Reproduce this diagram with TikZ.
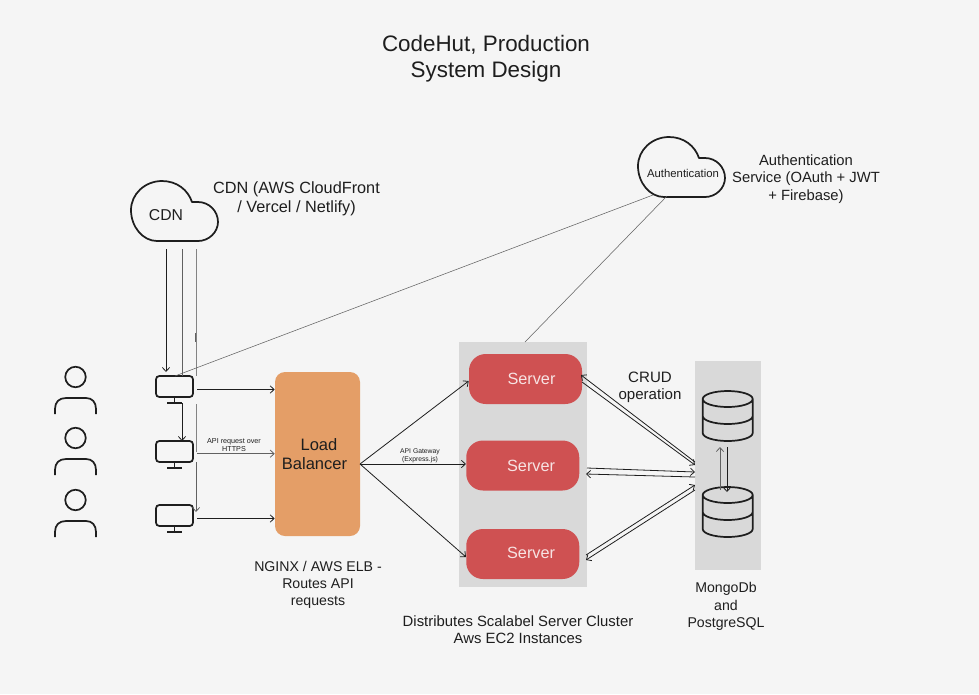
\documentclass[tikz,border=0pt]{standalone}
\usepackage{fontspec}
\setmainfont{Liberation Sans}
\usetikzlibrary{arrows.meta}
\definecolor{bgc}{HTML}{F5F5F5}
\definecolor{panelc}{HTML}{D9D9D9}
\definecolor{lbc}{HTML}{E49E67}
\definecolor{srvc}{HTML}{CF5152}
\definecolor{srvt}{HTML}{F7E3E3}
\definecolor{ink}{HTML}{1E1E1E}
\newcommand\fs[2]{\fontsize{#1}{#2}\selectfont}
\newcommand\cloudshape[2]{%
  \draw[shapeline,shift={(#1,#2)}] (26,60) -- (67,60) .. controls (78,60) and (87,51) .. (87,41)
    .. controls (87,30) and (78,21) .. (67,21) -- (61,21)
    .. controls (57,9) and (46,0) .. (31,0) .. controls (14,0) and (0,13) .. (0,29)
    .. controls (0,46) and (12,60) .. (26,60) -- cycle;}
\newcommand\cylinder[2]{%
  \draw[shapeline,shift={(#1,#2)}] (0,8) arc[x radius=25,y radius=8,start angle=180,end angle=-180]
    (0,8) -- (0,42) arc[x radius=25,y radius=8,start angle=180,end angle=0] -- (50,8)
    (0,25) arc[x radius=25,y radius=8,start angle=180,end angle=0];}
\newcommand\person[2]{%
  \node[headc] (#1) at (75.5,#2) {};
  \draw[shapeline] (55,#2+37) -- (55,#2+32) .. controls (55,#2+25) and (59,#2+21) .. (66,#2+21) -- (86,#2+21)
     .. controls (92,#2+21) and (96,#2+25) .. (96,#2+32) -- (96,#2+37);}
\newcommand\monitor[2]{%
  \node[screen] (#1) at (174.5,#2) {};
  \draw[shapeline] (#1.south) -- ++(0,5) ++(-7.5,0) -- ++(15,0);}
\tikzset{
  x=0.75pt,y=-0.75pt,
  shapeline/.style={draw=ink,line width=1.3pt,line join=round},
  headc/.style={circle,draw=ink,line width=1.3pt,minimum size={20.5*0.75pt},inner sep=0pt},
  screen/.style={rectangle,draw=ink,line width=1.3pt,rounded corners=2.5pt,minimum width={37*0.75pt},minimum height={21*0.75pt},inner sep=0pt},
  panel/.style={fill=panelc,draw=none,inner sep=0pt},
  srv/.style={fill=srvc,draw=none,rounded corners=12.5pt,text=srvt,font=\fs{12.2}{14},inner sep=0pt,minimum width={113*0.75pt},minimum height={50*0.75pt}},
  lbbox/.style={fill=lbc,draw=none,rounded corners=7.5pt,text=ink,font=\fs{12.4}{14.5},align=center,inner sep=0pt,minimum width={85*0.75pt},minimum height={164*0.75pt}},
  lab/.style={text=ink,align=center,font=\fs{10.6}{12.9},inner sep=0pt},
  small/.style={text=ink,align=center,inner sep=0pt},
  conn/.style={draw=ink,line width=0.6pt,-{Straight Barb[length=3pt,width=5.5pt,line width=0.6pt]}},
  connb/.style={draw=ink,line width=0.6pt,{Straight Barb[length=3pt,width=5.5pt,line width=0.6pt]}-},
  gline/.style={draw=ink!70,line width=0.4pt},
  gconn/.style={draw=ink!70,line width=0.6pt,-{Straight Barb[length=3pt,width=5.5pt,line width=0.6pt]}},
}
\begin{document}
\begin{tikzpicture}
\useasboundingbox[fill=bgc] (0,0) rectangle (979,694);
% panels
\node[panel,minimum width={128.5*0.75pt},minimum height={245*0.75pt}] (srvpanel) at (522.75,464.5) {};
\node[panel,minimum width={66*0.75pt},minimum height={209*0.75pt}] (dbpanel) at (728,465.5) {};
% title
\node[lab,font=\fs{16.8}{19.3}] (title) at (486,58.5) {CodeHut, Production\\System Design};
% clouds
\cloudshape{131}{181}
\node[small,font=\fs{11.8}{13}] (cdn) at (166,215) {CDN};
\cloudshape{638}{137}
\node[small,font=\fs{8.5}{9}] (auth) at (683,173) {Authentication};
\node[lab,font=\fs{12.2}{14.3}] (cdnlab) at (296.5,199) {CDN (AWS CloudFront\\/ Vercel / Netlify)};
\node[lab,font=\fs{11.1}{12.9}] (authlab) at (806,179) {Authentication\\Service (OAuth + JWT\\+ Firebase)};
% people
\person{p1}{377}
\person{p2}{438}
\person{p3}{500}
% monitors
\monitor{m1}{386.5}
\monitor{m2}{451.5}
\monitor{m3}{515.5}
% main boxes
\node[lbbox] (lb) at (317.5,454) {\hspace*{2.2pt}Load\\Balancer\hspace*{4.5pt}};
\node[srv] (s1) at (525.5,379) {\hspace*{9pt}Server};
\node[srv] (s2) at (522.75,465.5) {\hspace*{12.5pt}Server};
\node[srv] (s3) at (522.75,554) {\hspace*{12.5pt}\raisebox{1.5pt}{Server}};
% databases
\cylinder{702.7}{391}
\cylinder{702.7}{487}
% labels
\node[lab,font=\fs{11.3}{12.9}] (crud) at (650,387.5) {CRUD\\operation};
\node[lab] (nginx) at (318,585) {NGINX / AWS ELB -\\Routes API\\requests};
\node[lab,font=\fs{11.15}{12.9}] (dist) at (518,629.5) {Distributes Scalabel Server Cluster\\Aws EC2 Instances};
\node[lab] (mongo) at (726,606.5) {MongoDb\\and\\PostgreSQL};
\node[small,font=\fs{5.4}{6.2}] (apireq) at (234,445) {API request over\\HTTPS};
\node[small,font=\fs{5.1}{5.8}] (apigw) at (420,455.5) {API Gateway\\(Express.js)};
% connector ends
\coordinate (c1) at (166,249); \coordinate (c2) at (182,249); \coordinate (c3) at (196,249);
\coordinate (c3a) at (196,376);
\coordinate (t1) at (166,372);
\coordinate (u1) at (182,376);
\coordinate (a1) at (182,403); \coordinate (a2) at (196.5,404); \coordinate (a3) at (196.5,452);
\coordinate (a4) at (196,462); \coordinate (a5) at (196,512);
\coordinate (lbout) at (360,464);
\coordinate (authA) at (653,195); \coordinate (authB) at (667,196);
\coordinate (m1t) at (175,376); \coordinate (srvtop) at (525,342);
% CDN lines
\draw[conn] (c1) -- (t1);
\draw[gline] (c2) -- (u1);
\draw[gline,ink!55] (c3) -- (c3a);
\draw[draw=ink!70,line width=0.6pt] (195.6,333) -- (195.6,342);
\draw[conn] (a1) -- (182,441);
\draw[gline,ink!55] (a2) -- (a3);
\draw[gconn] (a4) -- (a5);
% auth lines
\draw[gline] (authA) -- (m1t);
\draw[gline] (authB) -- (srvtop);
% monitors to LB
\draw[conn] (197,389.5) -- (lb.west |- 0,389.5);
\draw[gconn] (197,453.7) -- (lb.west |- 0,453.7);
\draw[conn] (197,518.5) -- (lb.west |- 0,518.5);
% LB to servers
\draw[conn] (lbout) -- (s1.west |- 0,381);
\draw[conn] (lbout) -- (s2.west |- 0,464);
\draw[conn] (lbout) -- (s3.west |- 0,557);
% CRUD
\draw[connb] (581,375) -- (695,462);
\draw[conn] (582,382) -- (695,465);
\draw[conn] (587,468) -- (695,472);
\draw[connb] (586,474) -- (695,477);
\draw[conn] (586,555) -- (695,485);
\draw[connb] (586,560) -- (695,490);
% db replication
\draw[gconn] (720,490) -- (720,447);
\draw[conn] (727,447) -- (727,492);
\end{tikzpicture}
\end{document}
